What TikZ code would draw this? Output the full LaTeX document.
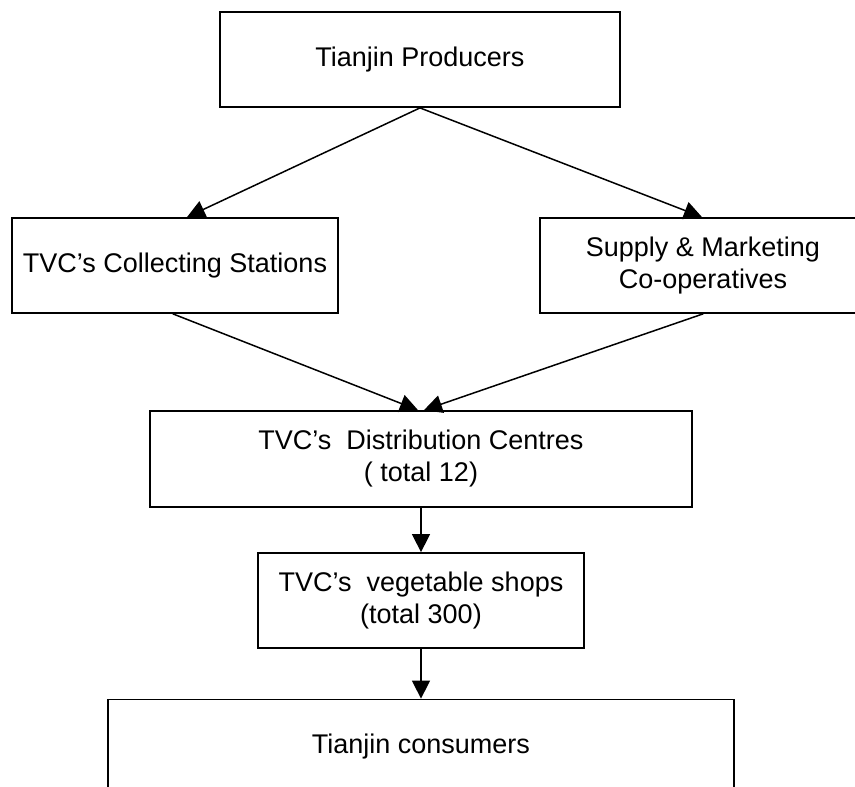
\documentclass[tikz,border=0pt]{standalone}
\usepackage{fontspec}
\setmainfont{Liberation Sans}
\usetikzlibrary{arrows.meta}

\begin{document}
\begin{tikzpicture}[line cap=round,line join=round,>={Triangle[length=18pt,width=18pt]},x=1pt,y=-1pt,
  caja/.style={draw,line width=1.8pt,line join=miter,align=center,minimum height=95pt,
    font=\fontsize{27}{32}\selectfont},
  flecha/.style={->,line width=1.5pt}]
\clip(0, 0)rectangle(855, 787);

\node[caja,minimum width=400pt] (prod) at (420, 59.5) {Tianjin Producers};

\node[caja,minimum width=326pt] (colec) at (175, 265.5) {TVC’s Collecting Stations};
\node[caja,minimum width=326pt] (coop) at (703, 265.5) {Supply \& Marketing\\Co-operatives};

\node[caja,minimum width=542pt,minimum height=96pt] (dist) at (421, 459) {TVC’s~ Distribution Centres\\( total 12)};

\node[caja,minimum width=326pt] (tienda) at (421, 600.5) {TVC’s~ vegetable shops\\(total 300)};

\node[caja,minimum width=626pt] (consum) at (421, 747) {Tianjin consumers};

\draw[flecha] (prod.south) -- ([xshift=12pt]colec.north);
\draw[flecha] (prod.south) -- ([xshift=-1pt]coop.north);
\draw[flecha] ([xshift=-2pt]colec.south) -- ([xshift=-3pt]dist.north);
\draw[flecha] (coop.south) -- ([xshift=3pt]dist.north);
\draw[flecha] (dist) -- (tienda);
\draw[flecha] (tienda) -- (consum);

\end{tikzpicture}
\end{document}
